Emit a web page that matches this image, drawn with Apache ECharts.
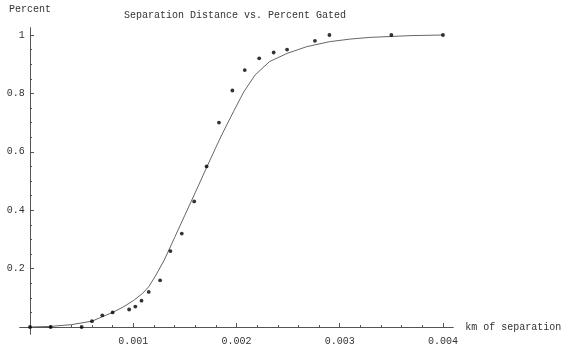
<!DOCTYPE html>
<html>
<head>
<meta charset="utf-8">
<script src="https://cdn.jsdelivr.net/npm/echarts@6/dist/echarts.min.js"></script>
<style>html,body{margin:0;padding:0;background:#fff}#c{width:563px;height:349px}</style>
</head>
<body>
<div id="c"></div>
<script>
// Measured data points
var pointX = [0, 0.0002, 0.0005, 0.0006, 0.0007, 0.0008, 0.00096, 0.00102, 0.00108, 0.00115, 0.00126, 0.00136, 0.00147, 0.00159, 0.00171, 0.00183, 0.00196, 0.00208, 0.00222, 0.00236, 0.00249, 0.00276, 0.0029, 0.0035, 0.004];
var pointY = [0, 0, 0, 0.02, 0.04, 0.05, 0.06, 0.07, 0.09, 0.12, 0.16, 0.26, 0.32, 0.43, 0.55, 0.70, 0.81, 0.88, 0.92, 0.94, 0.95, 0.98, 1.0, 1.0, 1.0];
// Fitted curve
var curveX = [0, 0.0002, 0.0004, 0.0006, 0.0007, 0.0008, 0.0009, 0.001, 0.00109, 0.00115, 0.00121, 0.0013, 0.0014, 0.0015, 0.0016, 0.0017, 0.0018, 0.00186, 0.00197, 0.00207, 0.00218, 0.00232, 0.00249, 0.00268, 0.0029, 0.0031, 0.0033, 0.0035, 0.0037, 0.004];
var curveY = [0, 0.002, 0.008, 0.02, 0.035, 0.05, 0.068, 0.09, 0.115, 0.138, 0.172, 0.229, 0.306, 0.383, 0.46, 0.538, 0.615, 0.66, 0.737, 0.805, 0.863, 0.909, 0.937, 0.96, 0.977, 0.986, 0.992, 0.995, 0.998, 1.0];
// Ticks
var xMajor = [0.001, 0.002, 0.003, 0.004];
var xMinor = [0.0002, 0.0004, 0.0006, 0.0008, 0.0012, 0.0014, 0.0016, 0.0018, 0.0022, 0.0024, 0.0026, 0.0028, 0.0032, 0.0034, 0.0036, 0.0038];
var yMajor = [0.2, 0.4, 0.6, 0.8, 1];
var yMinor = [0.05, 0.1, 0.15, 0.25, 0.3, 0.35, 0.45, 0.5, 0.55, 0.65, 0.7, 0.75, 0.85, 0.9, 0.95];

var FONT = '"Liberation Mono", "DejaVu Sans Mono", monospace';
var AX = '#555';
var TXT = '#333';

function zip(a, b) { return a.map(function (v, i) { return [v, b[i]]; }); }

var xRange = { min: -0.0001, max: 0.0041 };
var yRange = { min: -0.025, max: 1.025 };

var chart = echarts.init(document.getElementById('c'), null, { renderer: 'canvas' });
chart.setOption({
  animation: false,
  backgroundColor: '#fff',
  title: {
    text: 'Separation Distance vs. Percent Gated',
    left: 119, top: 5,
    textStyle: { fontFamily: FONT, fontSize: 10, fontWeight: 'normal', color: TXT }
  },
  grid: { left: 19.7, right: 109.7, top: 27.7, bottom: 14.7, containLabel: false, outerBoundsMode: 'none' },
  xAxis: [{
    type: 'value', min: xRange.min, max: xRange.max, position: 'bottom',
    axisLine: { show: true, onZero: true, onZeroAxisIndex: 0, lineStyle: { color: AX, width: 1 } },
    axisTick: { show: true, inside: true, length: 4, customValues: xMajor, lineStyle: { color: AX } },
    axisLabel: { show: true, customValues: xMajor, margin: 2, fontFamily: FONT, fontSize: 10, color: TXT },
    splitLine: { show: false },
    name: 'km of separation', nameLocation: 'end', nameGap: 12,
    nameTextStyle: { fontFamily: FONT, fontSize: 10, color: TXT }
  }, {
    type: 'value', min: xRange.min, max: xRange.max, position: 'bottom',
    axisLine: { show: false, onZero: true, onZeroAxisIndex: 0 },
    axisTick: { show: true, inside: true, length: 2, customValues: xMinor, lineStyle: { color: AX } },
    axisLabel: { show: false },
    splitLine: { show: false }
  }],
  yAxis: [{
    type: 'value', min: yRange.min, max: yRange.max, position: 'left',
    axisLine: { show: true, onZero: true, onZeroAxisIndex: 0, lineStyle: { color: AX, width: 1 } },
    axisTick: { show: true, inside: true, length: 4, customValues: yMajor, lineStyle: { color: AX } },
    axisLabel: { show: true, customValues: yMajor, margin: -5, fontFamily: FONT, fontSize: 10, color: TXT },
    splitLine: { show: false },
    name: 'Percent', nameLocation: 'end', nameGap: 13,
    nameTextStyle: { fontFamily: FONT, fontSize: 10, color: TXT }
  }, {
    type: 'value', min: yRange.min, max: yRange.max, position: 'left',
    axisLine: { show: false, onZero: true, onZeroAxisIndex: 0 },
    axisTick: { show: true, inside: true, length: 2, customValues: yMinor, lineStyle: { color: AX } },
    axisLabel: { show: false },
    splitLine: { show: false }
  }],
  series: [{
    type: 'line', xAxisIndex: 0, yAxisIndex: 0,
    data: zip(curveX, curveY),
    showSymbol: false, symbol: 'none',
    lineStyle: { color: '#555', width: 0.9 },
    z: 2
  }, {
    type: 'scatter', xAxisIndex: 0, yAxisIndex: 0,
    data: zip(pointX, pointY),
    symbol: 'circle', symbolSize: 3.8,
    itemStyle: { color: '#000' },
    z: 3
  }]
});
</script>
</body>
</html>
